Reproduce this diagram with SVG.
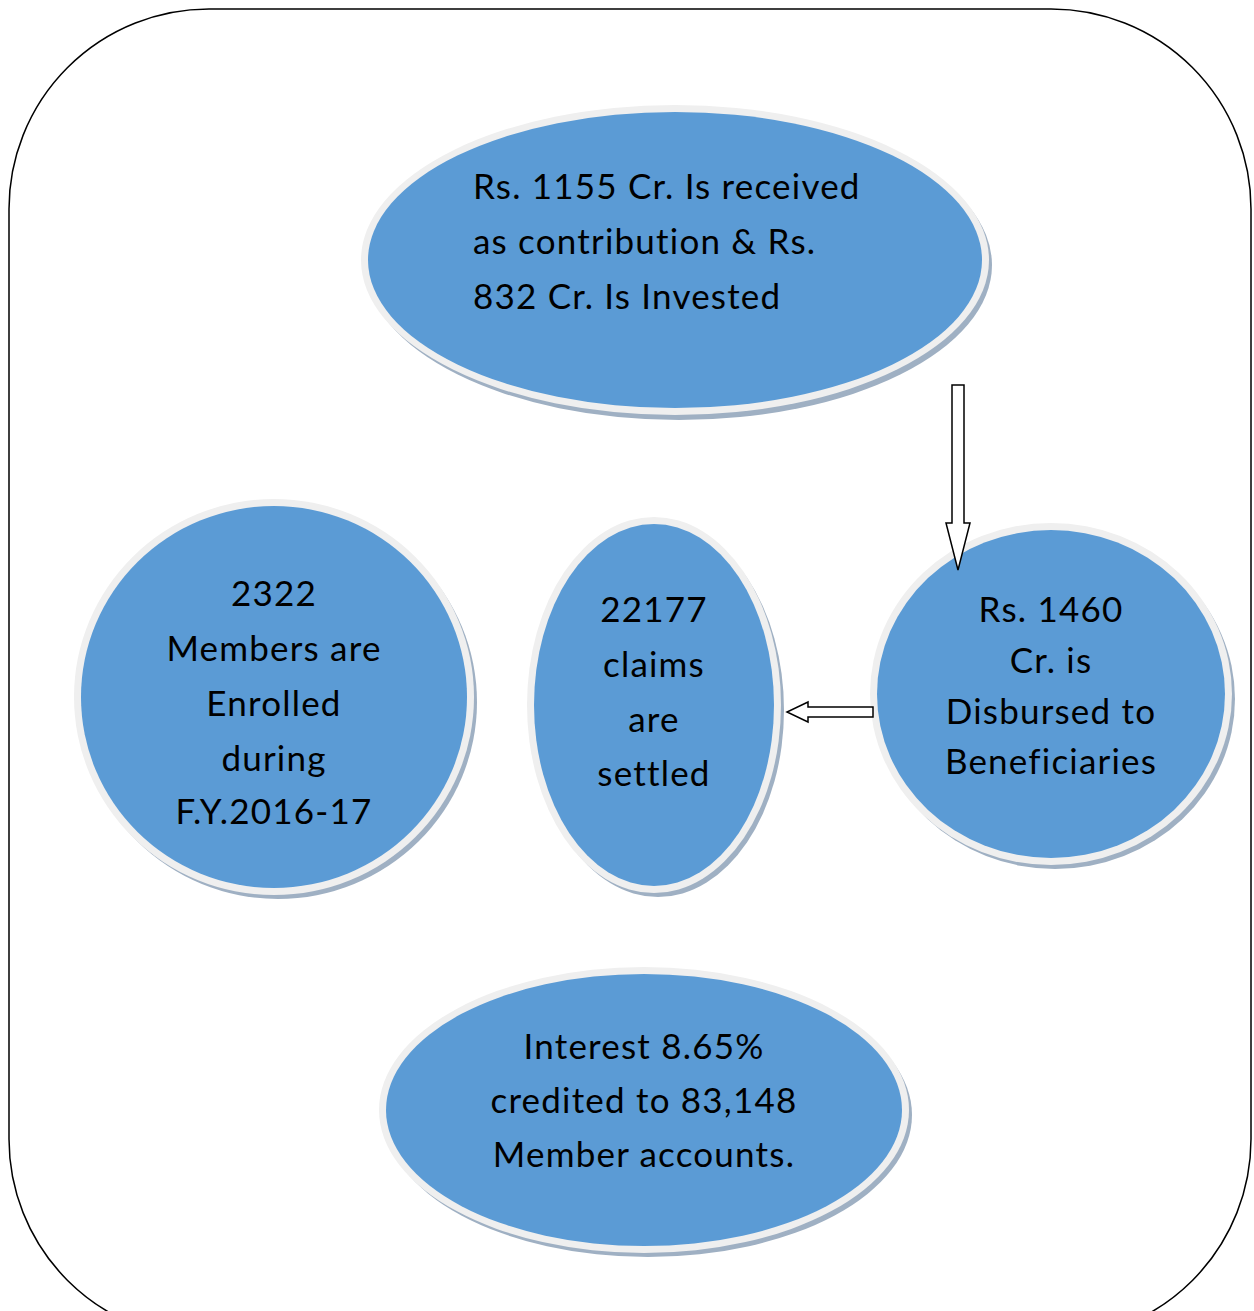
<svg xmlns="http://www.w3.org/2000/svg" width="1254" height="1311" viewBox="0 0 1254 1311">
<style>
.sh{fill:#9fb0c3}
.rim{fill:#efefef}
.blue{fill:#5b9bd5}
.t{font-family:Lato,"Open Sans","Liberation Sans",sans-serif;font-size:35px;letter-spacing:1.2px;fill:#000}
.c{text-anchor:middle}
.arr{fill:#fff;stroke:#000;stroke-width:1.5}
</style>
<rect width="1254" height="1311" fill="#fff"/>
<rect id="frame" x="9" y="9" width="1242" height="1330" rx="200" ry="200" fill="none" stroke="#000" stroke-width="1.5"/>
<g id="node-top">
<ellipse class="sh" cx="679" cy="265" rx="313" ry="155"/>
<ellipse class="rim" cx="675" cy="260" rx="314" ry="155"/>
<ellipse class="blue" cx="675" cy="260" rx="307" ry="148"/>
<text class="t" x="473" y="199">Rs. 1155 Cr. Is received</text>
<text class="t" x="473" y="254">as contribution &amp; Rs.</text>
<text class="t" x="473" y="309">832 Cr. Is Invested</text>
</g>
<g id="node-disbursed">
<ellipse class="sh" cx="1055" cy="699" rx="180" ry="170"/>
<ellipse class="rim" cx="1051" cy="694" rx="181" ry="171"/>
<ellipse class="blue" cx="1051" cy="694" rx="174" ry="164"/>
<text class="t c" x="1051" y="622">Rs. 1460</text>
<text class="t c" x="1051" y="673">Cr. is</text>
<text class="t c" x="1051" y="724">Disbursed to</text>
<text class="t c" x="1051" y="774">Beneficiaries</text>
</g>
<g id="node-claims">
<ellipse class="sh" cx="658" cy="710" rx="126" ry="187"/>
<ellipse class="rim" cx="654" cy="705" rx="127" ry="188"/>
<ellipse class="blue" cx="654" cy="705" rx="120" ry="181"/>
<text class="t c" x="654" y="622">22177</text>
<text class="t c" x="654" y="677">claims</text>
<text class="t c" x="654" y="732">are</text>
<text class="t c" x="654" y="786">settled</text>
</g>
<g id="node-members">
<ellipse class="sh" cx="278" cy="702" rx="199" ry="197"/>
<ellipse class="rim" cx="274" cy="697" rx="200" ry="198"/>
<ellipse class="blue" cx="274" cy="697" rx="193" ry="191"/>
<text class="t c" x="274" y="606">2322</text>
<text class="t c" x="274" y="661">Members are</text>
<text class="t c" x="274" y="716">Enrolled</text>
<text class="t c" x="274" y="771">during</text>
<text class="t c" x="274" y="824">F.Y.2016-17</text>
</g>
<g id="node-interest">
<ellipse class="sh" cx="648" cy="1115" rx="264" ry="142"/>
<ellipse class="rim" cx="644" cy="1110" rx="265" ry="143"/>
<ellipse class="blue" cx="644" cy="1110" rx="258" ry="136"/>
<text class="t c" x="644" y="1059">Interest 8.65%</text>
<text class="t c" x="644" y="1113">credited to 83,148</text>
<text class="t c" x="644" y="1167">Member accounts.</text>
</g>
<g id="connectors">
<path class="arr" d="M952,385 H964 V523 H970 L958,570 L946,523 H952 Z"/>
<path class="arr" d="M873,707 V717 H808 V722 L787,712 L808,702 V707 Z"/>
</g>
</svg>
